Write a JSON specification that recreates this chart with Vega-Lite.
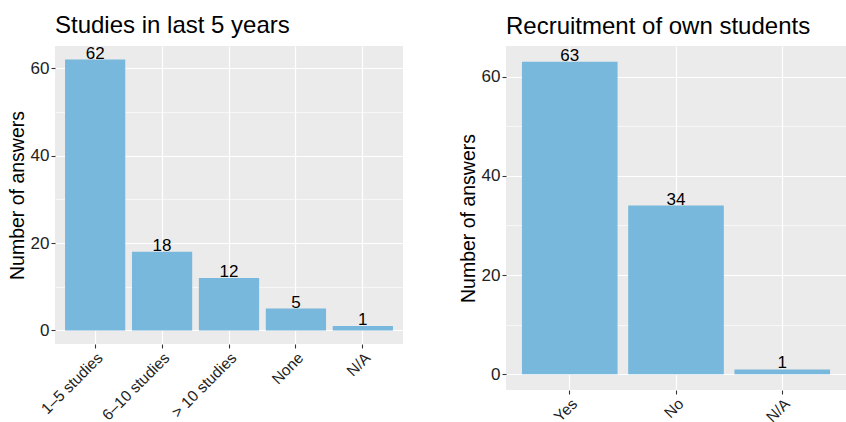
{
  "$schema": "https://vega.github.io/schema/vega-lite/v6.json",
  "background": "white",
  "padding": {"left": 7, "top": 13, "right": 0, "bottom": 0},
  "spacing": 55,
  "config": {
    "font": "Liberation Sans",
    "view": {"stroke": null, "fill": "#EBEBEB"},
    "title": {"fontSize": 24, "fontWeight": "normal", "color": "#000000", "anchor": "start", "frame": "group", "offset": 7},
    "axis": {
      "labelFont": "Liberation Sans",
      "labelFontSize": 17,
      "labelColor": "#222222",
      "titleFont": "Liberation Sans",
      "titleFontSize": 19.5,
      "titleFontWeight": "normal",
      "titleColor": "#000000",
      "domain": false,
      "tickColor": "#333333",
      "tickSize": 4,
      "tickWidth": 1.1,
      "labelPadding": 2,
      "gridColor": "#FFFFFF"
    }
  },
  "hconcat": [
    {
      "width": 348,
      "height": 298,
      "title": {"text": "Studies in last 5 years"},
      "data": {"values": [
        {"category": "1–5 studies", "n": 62},
        {"category": "6–10 studies", "n": 18},
        {"category": "> 10 studies", "n": 12},
        {"category": "None", "n": 5},
        {"category": "N/A", "n": 1}
      ]},
      "encoding": {
        "x": {
          "field": "category", "type": "nominal", "sort": null,
          "scale": {"paddingInner": 0.1, "paddingOuter": 0.15},
          "axis": {"title": null, "labelAngle": -45, "labelAlign": "right", "labelBaseline": "top", "labelFontSize": 15.5, "bandPosition": 0.5, "grid": true, "gridWidth": 1.2}
        },
        "y": {
          "field": "n", "type": "quantitative",
          "scale": {"domain": [-3.1, 65.1], "nice": false, "zero": false},
          "axis": {
            "title": "Number of answers",
            "values": [0, 10, 20, 30, 40, 50, 60],
            "labelExpr": "datum.value % 20 === 0 ? datum.label : ''",
            "tickOpacity": {"condition": {"test": "datum.value % 20 === 0", "value": 1}, "value": 0},
            "gridWidth": {"condition": {"test": "datum.value % 20 === 0", "value": 1.2}, "value": 0.6},
            "titlePadding": 3
          }
        }
      },
      "layer": [
        {"mark": {"type": "bar", "color": "#78B8DC"}, "encoding": {"y2": {"datum": 0}}},
        {"mark": {"type": "text", "baseline": "alphabetic", "dy": -1, "fontSize": 17, "color": "#000000"}, "encoding": {"text": {"field": "n", "type": "quantitative"}}}
      ]
    },
    {
      "width": 340,
      "height": 344,
      "title": {"text": "Recruitment of own students"},
      "data": {"values": [
        {"category": "Yes", "n": 63},
        {"category": "No", "n": 34},
        {"category": "N/A", "n": 1}
      ]},
      "encoding": {
        "x": {
          "field": "category", "type": "nominal", "sort": null,
          "scale": {"paddingInner": 0.1, "paddingOuter": 0.15},
          "axis": {"title": null, "labelAngle": -45, "labelAlign": "right", "labelBaseline": "top", "labelFontSize": 15.5, "bandPosition": 0.5, "grid": true, "gridWidth": 1.2}
        },
        "y": {
          "field": "n", "type": "quantitative",
          "scale": {"domain": [-3.15, 66.15], "nice": false, "zero": false},
          "axis": {
            "title": "Number of answers",
            "values": [0, 10, 20, 30, 40, 50, 60],
            "labelExpr": "datum.value % 20 === 0 ? datum.label : ''",
            "tickOpacity": {"condition": {"test": "datum.value % 20 === 0", "value": 1}, "value": 0},
            "gridWidth": {"condition": {"test": "datum.value % 20 === 0", "value": 1.2}, "value": 0.6},
            "titlePadding": 3
          }
        }
      },
      "layer": [
        {"mark": {"type": "bar", "color": "#78B8DC"}, "encoding": {"y2": {"datum": 0}}},
        {"mark": {"type": "text", "baseline": "alphabetic", "dy": -1, "fontSize": 17, "color": "#000000"}, "encoding": {"text": {"field": "n", "type": "quantitative"}}}
      ]
    }
  ]
}
